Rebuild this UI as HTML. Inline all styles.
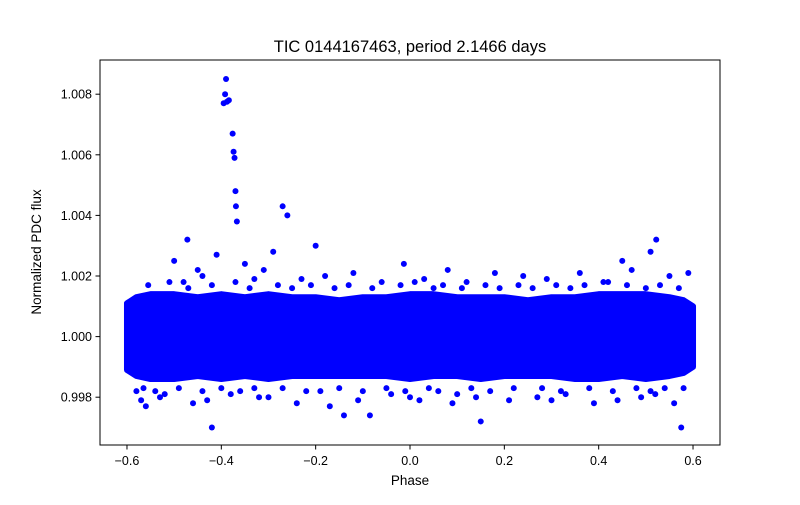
<!DOCTYPE html>
<html><head><meta charset="utf-8"><style>
body{margin:0;background:#fff;}
svg text{font-family:"Liberation Sans","DejaVu Sans",sans-serif;fill:#000;}
</style></head><body>
<svg id="chart" width="800" height="500" viewBox="0 0 800 500" xmlns="http://www.w3.org/2000/svg">
<rect width="800" height="500" fill="#fff"/>
<text x="410" y="52" font-size="16.5" text-anchor="middle">TIC 0144167463, period 2.1466 days</text>
<g id="band"></g>
<g id="pts"></g>
<rect x="100" y="60" width="620" height="385" fill="none" stroke="#000" stroke-width="1"/>
<g id="xt"></g>
<g id="yt"></g>
<text x="410" y="485" font-size="13.5" text-anchor="middle">Phase</text>
<text transform="translate(41,252) rotate(-90)" font-size="13.5" text-anchor="middle">Normalized PDC flux</text>
</svg>
<script>
const xTicks=[-0.6,-0.4,-0.2,0,0.2,0.4,0.6];
const xTickLabels=["−0.6","−0.4","−0.2","0.0","0.2","0.4","0.6"];
const yTicks=[0.998,1.000,1.002,1.004,1.006,1.008];
const yTickLabels=["0.998","1.000","1.002","1.004","1.006","1.008"];
const bandPhase=[-0.6,-0.58,-0.55,-0.5,-0.45,-0.4,-0.35,-0.3,-0.25,-0.2,-0.15,-0.1,-0.05,0,0.05,0.1,0.15,0.2,0.25,0.3,0.35,0.4,0.45,0.5,0.55,0.58,0.6];
const bandUpper=[1.0011,1.0013,1.0014,1.0014,1.0013,1.0014,1.0013,1.0014,1.0013,1.0013,1.0012,1.0013,1.0013,1.0014,1.0014,1.0013,1.0013,1.0013,1.0012,1.0013,1.0013,1.0014,1.0014,1.0014,1.0013,1.0012,1.0010];
const bandLower=[0.9989,0.9987,0.9986,0.9986,0.9987,0.9986,0.9987,0.9986,0.9987,0.9987,0.9987,0.9987,0.9987,0.9986,0.9987,0.9987,0.9986,0.9987,0.9987,0.9987,0.9986,0.9986,0.9987,0.9986,0.9987,0.9988,0.9990];
const ptPhase=[-0.39,-0.392,-0.388,-0.384,-0.395,-0.376,-0.374,-0.372,-0.37,-0.369,-0.367,-0.27,-0.26,-0.472,-0.2,0.522,-0.41,-0.29,-0.42,0.575,0.15,-0.085,-0.14,-0.56,0.51,-0.013,0.45,-0.45,-0.5,-0.48,-0.44,-0.35,-0.33,-0.31,-0.23,-0.18,-0.12,-0.06,0.03,0.08,0.12,0.18,0.24,0.29,0.36,0.41,0.47,0.55,0.59,-0.57,-0.53,-0.46,-0.43,-0.38,-0.32,-0.24,-0.17,-0.11,-0.04,0.02,0.09,0.14,0.21,0.27,0.33,0.39,0.44,0.49,0.56,-0.58,-0.52,-0.3,-0.19,0.0,0.1,0.3,0.52,
-0.555,-0.51,-0.47,-0.42,-0.37,-0.34,-0.28,-0.25,-0.21,-0.16,-0.13,-0.08,-0.02,0.01,0.05,0.07,0.11,0.16,0.19,0.23,0.26,0.31,0.34,0.37,0.42,0.46,0.5,0.53,0.57,
-0.565,-0.54,-0.49,-0.44,-0.4,-0.36,-0.33,-0.27,-0.22,-0.15,-0.1,-0.05,-0.01,0.04,0.06,0.13,0.17,0.22,0.28,0.32,0.38,0.43,0.48,0.51,0.54,0.58];
const ptFlux=[1.0085,1.0080,1.00775,1.0078,1.0077,1.0067,1.0061,1.0059,1.0048,1.0043,1.0038,1.0043,1.0040,1.0032,1.0030,1.0032,1.0027,1.0028,0.9970,0.9970,0.9972,0.9974,0.9974,0.9977,1.0028,1.0024,1.0025,1.0022,1.0025,1.0018,1.0020,1.0024,1.0019,1.0022,1.0019,1.0020,1.0021,1.0018,1.0019,1.0022,1.0018,1.0021,1.0020,1.0019,1.0021,1.0018,1.0022,1.0020,1.0021,0.9979,0.9980,0.9978,0.9979,0.9981,0.9980,0.9978,0.9977,0.9979,0.9981,0.9979,0.9978,0.9980,0.9979,0.9980,0.9981,0.9978,0.9979,0.9980,0.9978,0.9982,0.9981,0.9980,0.9982,0.9980,0.9981,0.9979,0.9981,
1.0017,1.0018,1.0016,1.0017,1.0018,1.0016,1.0017,1.0016,1.0017,1.0016,1.0017,1.0016,1.0017,1.0018,1.0016,1.0017,1.0016,1.0017,1.0016,1.0017,1.0016,1.0017,1.0016,1.0017,1.0018,1.0017,1.0016,1.0017,1.0016,
0.9983,0.9982,0.9983,0.9982,0.9983,0.9982,0.9983,0.9983,0.9982,0.9983,0.9982,0.9983,0.9982,0.9983,0.9982,0.9983,0.9982,0.9983,0.9983,0.9982,0.9983,0.9982,0.9983,0.9982,0.9983,0.9983];
const NS="http://www.w3.org/2000/svg";
const X=v=>410+v*471.7;
const Y=v=>336.6-(v-1)*30300;
function mk(t,a,p){const e=document.createElementNS(NS,t);for(const k in a)e.setAttribute(k,a[k]);p.appendChild(e);return e;}
const band=document.getElementById('band');
let d=bandPhase.map((p,i)=>(i?'L':'M')+X(p)+','+Y(bandUpper[i])).join('');
for(let i=bandPhase.length-1;i>=0;i--)d+='L'+X(bandPhase[i])+','+Y(bandLower[i]);
const poly=mk('path',{d:d+'Z',fill:'#0000ff',stroke:'#0000ff','stroke-width':6,'stroke-linejoin':'round'},band);


const pts=document.getElementById('pts');
ptPhase.forEach((p,i)=>{const c=mk('circle',{cx:X(p),cy:Y(ptFlux[i]),r:3,fill:'#0000ff'},pts);

});
const xt=document.getElementById('xt');
xTicks.forEach((v,i)=>{mk('line',{x1:X(v),x2:X(v),y1:445,y2:449.5,stroke:'#000'},xt);
const t=mk('text',{x:X(v),y:465,'font-size':12.5,'text-anchor':'middle'},xt);t.textContent=xTickLabels[i];

});
const yt=document.getElementById('yt');
yTicks.forEach((v,i)=>{mk('line',{x1:95.5,x2:100,y1:Y(v),y2:Y(v),stroke:'#000'},yt);
const t=mk('text',{x:92,y:Y(v)+4.5,'font-size':12.5,'text-anchor':'end'},yt);t.textContent=yTickLabels[i];

});
</script>
</body></html>
